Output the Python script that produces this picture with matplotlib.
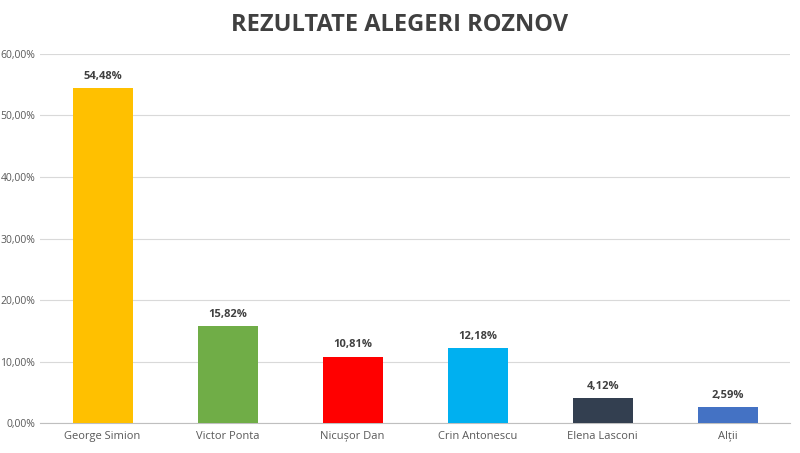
import matplotlib
matplotlib.use("Agg")
import matplotlib.pyplot as plt
from matplotlib.ticker import FuncFormatter

categories = ["George Simion", "Victor Ponta", "Nicușor Dan", "Crin Antonescu", "Elena Lasconi", "Alții"]
values = [54.48, 15.82, 10.81, 12.18, 4.12, 2.59]
colors = ["#FFC000", "#70AD47", "#FF0000", "#00B0F0", "#333F50", "#4472C4"]

plt.rcParams['font.family'] = ['Open Sans', 'DejaVu Sans']
fig = plt.figure(figsize=(8, 4.53), dpi=100)
ax = fig.add_axes([0.05, 0.066, 0.938, 0.815])
x = range(len(categories))
ax.bar(x, values, width=0.48, color=colors, zorder=3)
for i, v in zip(x, values):
    ax.text(i, v + 1.0, f"{v:.2f}%".replace('.', ','), ha='center', va='bottom',
            fontsize=8, fontweight='bold', color='#404040')
ax.set_xlim(-0.5, len(categories) - 0.5)
ax.set_ylim(0, 60)
ax.set_yticks(range(0, 61, 10))
ax.yaxis.set_major_formatter(FuncFormatter(lambda v, p: f"{v:.2f}%".replace('.', ',')))
ax.set_xticks(list(x))
ax.set_xticklabels(categories)
ax.tick_params(axis='both', length=0, labelsize=7.5, colors='#595959')
ax.tick_params(axis='x', labelsize=8, pad=6)
ax.grid(axis='y', color='#D9D9D9', linewidth=0.8, zorder=0)
for s in ['top', 'right', 'left']:
    ax.spines[s].set_visible(False)
ax.spines['bottom'].set_color('#BFBFBF')
fig.text(0.5, 0.945, "REZULTATE ALEGERI ROZNOV", ha='center', va='center',
         fontsize=17, fontweight='bold', color='#404040')
fig.savefig("out.png", dpi=100)
